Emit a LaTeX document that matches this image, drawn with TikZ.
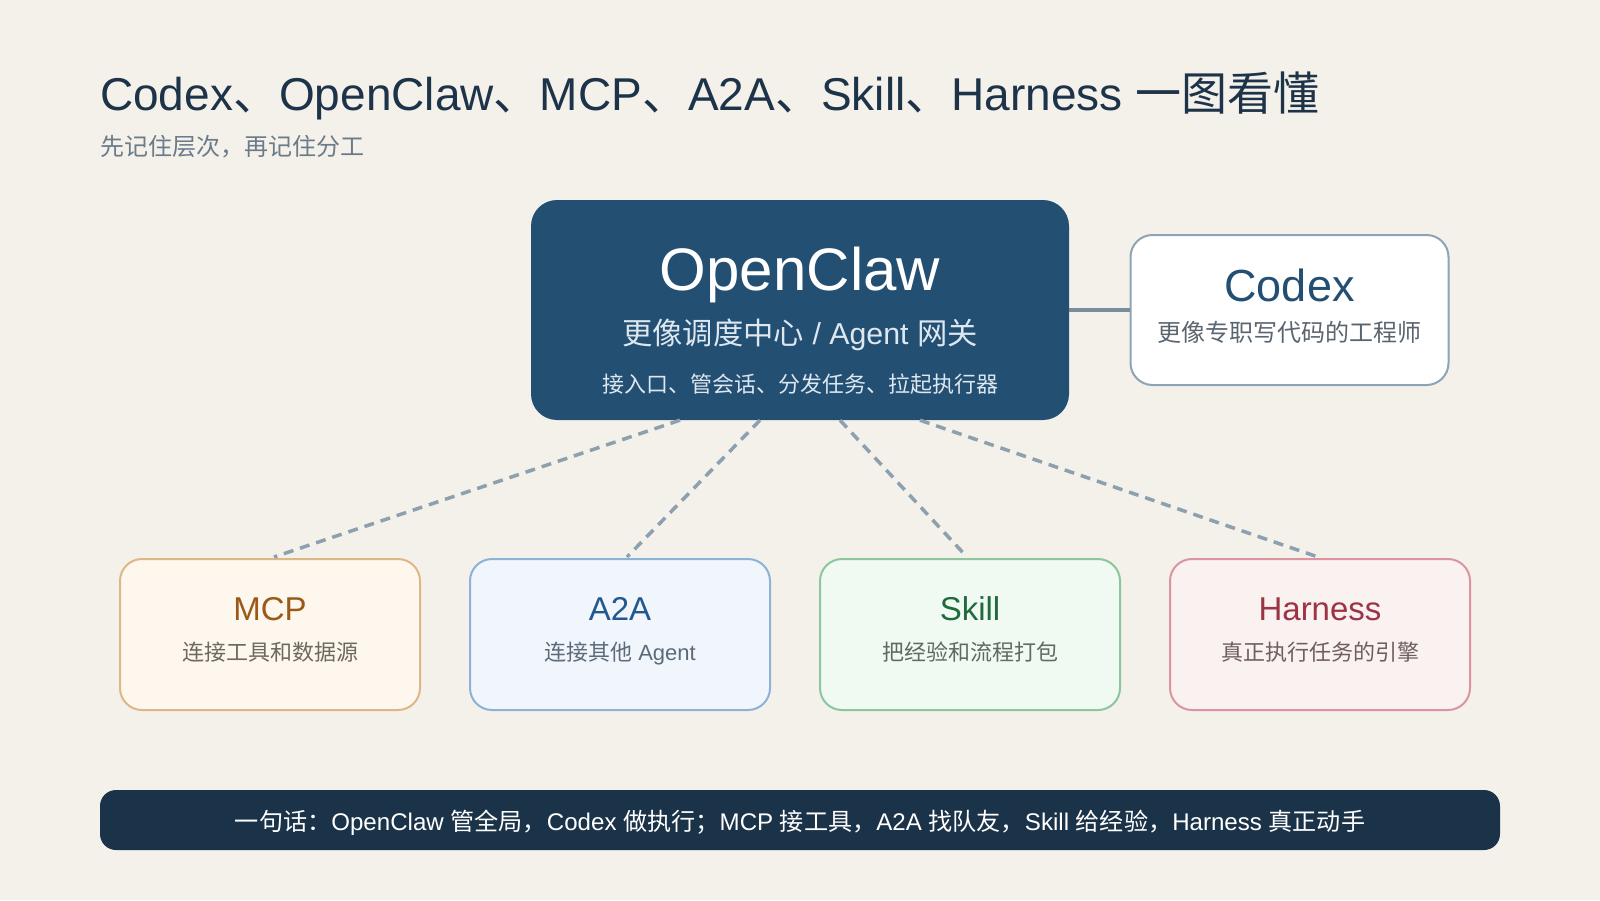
\documentclass[tikz,border=0pt]{standalone}
\usepackage{fontspec}
\setmainfont{Liberation Sans}
\newfontfamily\cjk{Noto Sans CJK SC}
\newcommand\zh[1]{{\cjk #1}}
\usetikzlibrary{calc}
\definecolor{bgc}{HTML}{F4F1EA}
\definecolor{titlec}{HTML}{1D3349}
\definecolor{subc}{HTML}{6B7B8A}
\definecolor{ocfill}{HTML}{234F73}
\definecolor{ocsub}{HTML}{DDE7F0}
\definecolor{cxborder}{HTML}{8EA3B5}
\definecolor{cxsub}{HTML}{5B6570}
\definecolor{conc}{HTML}{7A8D9C}
\definecolor{dashc}{HTML}{8DA0B0}
\definecolor{mcpfill}{HTML}{FDF7EE}
\definecolor{mcpborder}{HTML}{DDB886}
\definecolor{mcptitle}{HTML}{9A5A17}
\definecolor{mcpsub}{HTML}{6E6862}
\definecolor{a2afill}{HTML}{F1F6FC}
\definecolor{a2aborder}{HTML}{8DB2D8}
\definecolor{a2atitle}{HTML}{23588F}
\definecolor{a2asub}{HTML}{5C6B7A}
\definecolor{skfill}{HTML}{F1F9F3}
\definecolor{skborder}{HTML}{8DC59C}
\definecolor{sktitle}{HTML}{1F6B3D}
\definecolor{sksub}{HTML}{5D6B62}
\definecolor{hafill}{HTML}{FAF1F1}
\definecolor{haborder}{HTML}{DB94A0}
\definecolor{hatitle}{HTML}{9B3444}
\definecolor{hasub}{HTML}{6E5E60}
\definecolor{barc}{HTML}{1B3349}
\begin{document}
\begin{tikzpicture}[x=1pt,y=-1pt,
  txt/.style={inner sep=0pt, anchor=base},
  card/.style={rounded corners=22pt, line width=2pt, minimum width=300pt, minimum height=151pt, inner sep=0pt},
  cardtitle/.style={txt, font=\fontsize{33}{36}\selectfont},
  cardsub/.style={txt, font=\fontsize{22}{26}\selectfont},
  linkdash/.style={dash pattern=on 10pt off 7pt, line width=3.5pt, draw=dashc}
]
\fill[bgc] (0,0) rectangle (1600,900);
\useasboundingbox (0,0) rectangle (1600,900);

% title
\node[txt, anchor=base west, text=titlec, font=\fontsize{46}{50}\selectfont] (title) at (100,110.5)
  {Codex\zh{、}OpenClaw\zh{、}MCP\zh{、}A2A\zh{、}Skill\zh{、}Harness \zh{一图看懂}};
\node[txt, anchor=base west, text=subc, font=\fontsize{24}{28}\selectfont] (subtitle) at (100,155)
  {\zh{先记住层次，再记住分工}};

% OpenClaw
\node[fill=ocfill, rounded corners=26pt, minimum width=538pt, minimum height=220pt, inner sep=0pt] (oc) at (800,310) {};
\node[txt, text=white, font=\fontsize{60}{64}\selectfont] (octitle) at (800,290) {OpenClaw};
\node[txt, text=ocsub, font=\fontsize{30.3}{33}\selectfont] (ocsub1) at (800,344) {\zh{更像调度中心} / Agent \zh{网关}};
\node[txt, text=ocsub, font=\fontsize{22}{26}\selectfont] (ocsub2) at (800,392) {\zh{接入口、管会话、分发任务、拉起执行器}};

% Codex
\node[draw=cxborder, fill=white, rounded corners=22pt, line width=2pt, minimum width=318pt, minimum height=150pt, inner sep=0pt] (codex) at (1289.5,310) {};
\node[txt, text=ocfill, font=\fontsize{45}{48}\selectfont] (cxtitle) at (1289.5,301) {Codex};
\node[txt, text=cxsub, font=\fontsize{24}{28}\selectfont] (cxsub1) at (1289.5,341.5) {\zh{更像专职写代码的工程师}};
\draw[line width=4.5pt, draw=conc] (oc.east) -- (codex.west);

% cards
\node[card, draw=mcpborder, fill=mcpfill] (mcp) at (270,634.5) {};
\node[cardtitle, text=mcptitle] (mcpt) at (270,620) {MCP};
\node[cardsub, text=mcpsub] (mcps) at (270,660) {\zh{连接工具和数据源}};

\node[card, draw=a2aborder, fill=a2afill] (a2a) at (620,634.5) {};
\node[cardtitle, text=a2atitle] (a2at) at (620,620) {A2A};
\node[cardsub, text=a2asub] (a2as) at (620,660) {\zh{连接其他} Agent};

\node[card, draw=skborder, fill=skfill] (skill) at (970,634.5) {};
\node[cardtitle, text=sktitle] (skt) at (970,620) {Skill};
\node[cardsub, text=sksub] (sks) at (970,660) {\zh{把经验和流程打包}};

\node[card, draw=haborder, fill=hafill] (harness) at (1320,634.5) {};
\node[cardtitle, text=hatitle] (hat) at (1320,620) {Harness};
\node[cardsub, text=hasub] (has) at (1320,660) {\zh{真正执行任务的引擎}};

% dashed links
\draw[linkdash] ($(oc.south)+(-120,0)$) -- ($(mcp.north)+(4,-1)$);
\draw[linkdash] ($(oc.south)+(-40,0)$) -- ($(a2a.north)+(7,-1)$);
\draw[linkdash] ($(oc.south)+(40,0)$) -- ($(skill.north)+(-3,-1)$);
\draw[linkdash] ($(oc.south)+(120,0)$) -- ($(harness.north)+(-2,-1)$);

% bottom bar
\node[fill=barc, rounded corners=16pt, minimum width=1400pt, minimum height=60pt, inner sep=0pt] (bar) at (800,820) {};
\node[txt, text=white, font=\fontsize{24.1}{26}\selectfont] (bart) at (800,830)
  {\zh{一句话：}OpenClaw \zh{管全局，}Codex \zh{做执行；}MCP \zh{接工具，}A2A \zh{找队友，}Skill \zh{给经验，}Harness \zh{真正动手}};
\end{tikzpicture}
\end{document}
